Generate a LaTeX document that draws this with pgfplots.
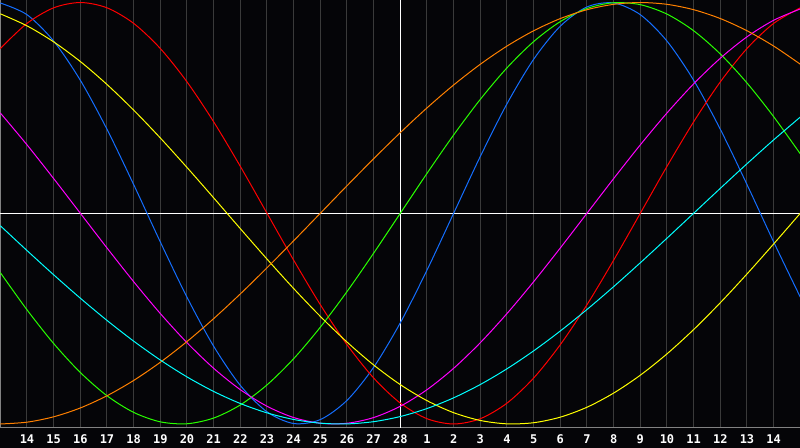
\documentclass[border=0pt]{standalone}
\usepackage{fontspec}
\setmainfont{DejaVu Sans}
\newfontfamily\labelfont{DejaVu Sans Mono}
\usepackage{pgfplots}
\pgfplotsset{compat=1.18}
\definecolor{bg}{RGB}{5,5,8}
\definecolor{gridc}{RGB}{58,58,58}
\definecolor{bordc}{RGB}{130,130,130}
\definecolor{cphys}{RGB}{20,110,255}
\definecolor{cemo}{RGB}{255,0,0}
\definecolor{cint}{RGB}{40,255,0}
\definecolor{cintu}{RGB}{255,0,255}
\definecolor{caes}{RGB}{255,255,0}
\definecolor{cawa}{RGB}{255,128,0}
\definecolor{cspi}{RGB}{0,255,255}
\begin{document}
\begin{tikzpicture}
\fill[bg] (0,-10pt) rectangle (400pt,214pt);
\begin{axis}[
  scale only axis, width=400pt, height=214pt, at={(0,0)}, anchor=south west,
  xmin=-1.0125, xmax=28.9875, ymin=-1.019, ymax=1.012,
  axis x line=box, axis y line=left,
  axis line style={draw=bordc, line width=0.5pt, -},
  y axis line style={-}, x axis line style={-},
  xtick={0,...,28},
  xticklabels={14,15,16,17,18,19,20,21,22,23,24,25,26,27,28,1,2,3,4,5,6,7,8,9,10,11,12,13,14},
  ytick=\empty,
  major tick length=0pt,
  xmajorgrids, grid style={gridc, line width=0.5pt},
  xticklabel style={font=\labelfont\bfseries\fontsize{6}{6}\selectfont, text=white, anchor=base, inner sep=0pt, yshift=-7.6pt},
  extra x ticks={14}, extra x tick labels={},
  extra x tick style={grid=major, major grid style={white, line width=0.5pt}},
  extra y ticks={0}, extra y tick labels={},
  extra y tick style={grid=major, major grid style={white, line width=0.5pt}},
  every axis plot/.append style={line width=0.5pt, smooth, no marks},
]
% physical 23
\addplot[cphys] coordinates {(-1,0.9977)(0,0.9422)(1,0.8169)(2,0.6311)(3,0.3984)(4,0.1362)(5,-0.1362)(6,-0.3984)(7,-0.6311)(8,-0.8169)(9,-0.9422)(10,-0.9977)(11,-0.9791)(12,-0.8879)(13,-0.7308)(14,-0.5196)(15,-0.2698)(16,0)(17,0.2698)(18,0.5196)(19,0.7308)(20,0.8879)(21,0.9791)(22,0.9977)(23,0.9422)(24,0.8169)(25,0.6311)(26,0.3984)(27,0.1362)(28,-0.1362)(29,-0.3984)};
% emotional 28
\addplot[cemo] coordinates {(-1,0.7818)(0,0.9010)(1,0.9749)(2,1)(3,0.9749)(4,0.9010)(5,0.7818)(6,0.6235)(7,0.4339)(8,0.2225)(9,0)(10,-0.2225)(11,-0.4339)(12,-0.6235)(13,-0.7818)(14,-0.9010)(15,-0.9749)(16,-1)(17,-0.9749)(18,-0.9010)(19,-0.7818)(20,-0.6235)(21,-0.4339)(22,-0.2225)(23,0)(24,0.2225)(25,0.4339)(26,0.6235)(27,0.7818)(28,0.9010)(29,0.9749)};
% intellectual 33
\addplot[cint] coordinates {(-1,-0.2817)(0,-0.4582)(1,-0.6182)(2,-0.7557)(3,-0.8660)(4,-0.9450)(5,-0.9898)(6,-0.9989)(7,-0.9718)(8,-0.9096)(9,-0.8146)(10,-0.6901)(11,-0.5406)(12,-0.3717)(13,-0.1893)(14,0)(15,0.1893)(16,0.3717)(17,0.5406)(18,0.6901)(19,0.8146)(20,0.9096)(21,0.9718)(22,0.9989)(23,0.9898)(24,0.9450)(25,0.8660)(26,0.7557)(27,0.6182)(28,0.4582)(29,0.2817)};
% intuitive 38
\addplot[cintu] coordinates {(-1,0.4759)(0,0.3247)(1,0.1646)(2,0)(3,-0.1646)(4,-0.3247)(5,-0.4759)(6,-0.6142)(7,-0.7357)(8,-0.8372)(9,-0.9158)(10,-0.9694)(11,-0.9966)(12,-0.9966)(13,-0.9694)(14,-0.9158)(15,-0.8372)(16,-0.7357)(17,-0.6142)(18,-0.4759)(19,-0.3247)(20,-0.1646)(21,0)(22,0.1646)(23,0.3247)(24,0.4759)(25,0.6142)(26,0.7357)(27,0.8372)(28,0.9158)(29,0.9694)};
% aesthetic 43
\addplot[caes] coordinates {(-1,0.9464)(0,0.8893)(1,0.8133)(2,0.7200)(3,0.6111)(4,0.4894)(5,0.3572)(6,0.2174)(7,0.0731)(8,-0.0731)(9,-0.2174)(10,-0.3572)(11,-0.4894)(12,-0.6111)(13,-0.7200)(14,-0.8133)(15,-0.8893)(16,-0.9464)(17,-0.9833)(18,-0.9993)(19,-0.9940)(20,-0.9675)(21,-0.9204)(22,-0.8533)(23,-0.7684)(24,-0.6672)(25,-0.5519)(26,-0.4245)(27,-0.2881)(28,-0.1456)(29,0)};
% awareness 48
\addplot[cawa] coordinates {(-1,-1)(0,-0.9914)(1,-0.9659)(2,-0.9239)(3,-0.8660)(4,-0.7934)(5,-0.7071)(6,-0.6088)(7,-0.5)(8,-0.3827)(9,-0.2588)(10,-0.1305)(11,0)(12,0.1305)(13,0.2588)(14,0.3827)(15,0.5)(16,0.6088)(17,0.7071)(18,0.7934)(19,0.8660)(20,0.9239)(21,0.9659)(22,0.9914)(23,1)(24,0.9914)(25,0.9659)(26,0.9239)(27,0.8660)(28,0.7934)(29,0.7071)};
% spiritual 53
\addplot[cspi] coordinates {(-1,-0.0592)(0,-0.1769)(1,-0.2920)(2,-0.4031)(3,-0.5085)(4,-0.6068)(5,-0.6965)(6,-0.7766)(7,-0.8456)(8,-0.9028)(9,-0.9473)(10,-0.9786)(11,-0.9961)(12,-0.9996)(13,-0.9890)(14,-0.9646)(15,-0.9267)(16,-0.8758)(17,-0.8126)(18,-0.7380)(19,-0.6529)(20,-0.5586)(21,-0.4566)(22,-0.3482)(23,-0.2349)(24,-0.1183)(25,0)(26,0.1183)(27,0.2349)(28,0.3482)(29,0.4566)};
\end{axis}
\pgfresetboundingbox
\useasboundingbox (0,-10pt) rectangle (400pt,214pt);
\end{tikzpicture}
\end{document}
